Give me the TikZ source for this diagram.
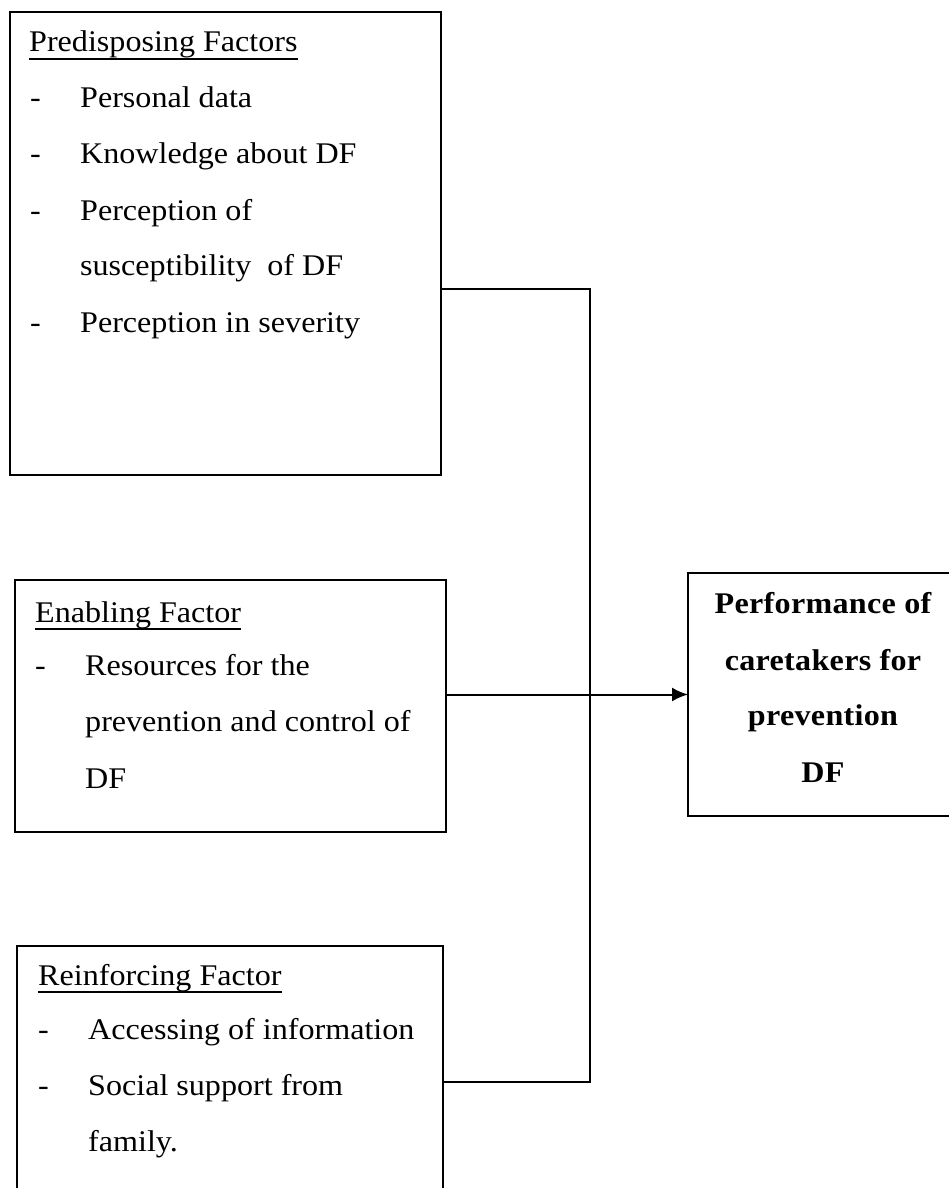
\documentclass[tikz,border=0pt]{standalone}
\usepackage{fontspec}
\setmainfont{Liberation Serif}[FakeStretch=1.07]
\usetikzlibrary{arrows.meta}
\begin{document}
\begin{tikzpicture}[x=1pt,y=-1pt,
  box/.style={draw, line width=2pt, rectangle, anchor=north west, inner sep=0pt, outer sep=0pt},
  txt/.style={anchor=base west, inner sep=0pt, font=\fontsize{30}{33}\selectfont},
  btxt/.style={anchor=base, inner sep=0pt, font=\fontsize{30}{33}\selectfont\bfseries\addfontfeature{LetterSpace=1}},
  conn/.style={line width=2pt},
  uline/.style={line width=1.2pt}]
\clip (0,0) rectangle (949,1188);
\fill[white] (0,0) rectangle (949,1188);

% boxes
\node[box, minimum width=431pt, minimum height=463pt] (b1) at (10,12) {};
\node[box, minimum width=431pt, minimum height=252pt] (b2) at (15,580) {};
\node[box, minimum width=280pt, minimum height=243pt] (b3) at (688,573) {};
\node[box, minimum width=426pt, minimum height=260pt] (b4) at (17,946) {};

% box 1 text
\node[txt] (h1) at (29,52) {Predisposing Factors};
\draw[uline] ([yshift=-7pt]h1.base west) -- ([yshift=-7pt]h1.base east);
\node[txt] (d11) at (30,108) {-};
\node[txt] (t11) at (80,108) {Personal data};
\node[txt] (d12) at (30,163) {-};
\node[txt] (t12) at (80,163) {Knowledge about DF};
\node[txt] (d13) at (30,220) {-};
\node[txt] (t13) at (80,220) {Perception of};
\node[txt] (t14) at (80,275) {susceptibility\ \ of DF};
\node[txt] (d15) at (30,332) {-};
\node[txt] (t15) at (80,332) {Perception in severity};

% box 2 text
\node[txt] (h2) at (35,622) {Enabling Factor};
\draw[uline] ([yshift=-7pt]h2.base west) -- ([yshift=-7pt]h2.base east);
\node[txt] (d21) at (35,675) {-};
\node[txt] (t21) at (85,675) {Resources for the};
\node[txt] (t22) at (85,731) {prevention and control of};
\node[txt] (t23) at (85,788) {DF};

% box 3 text
\node[btxt] (p1) at (823,613) {Performance of};
\node[btxt] (p2) at (823,670) {caretakers for};
\node[btxt] (p3) at (823,725) {prevention};
\node[btxt] (p4) at (823,782) {DF};

% box 4 text
\node[txt] (h4) at (38,985) {Reinforcing Factor};
\draw[uline] ([yshift=-7pt]h4.base west) -- ([yshift=-7pt]h4.base east);
\node[txt] (d41) at (38,1039) {-};
\node[txt] (t41) at (88,1039) {Accessing of information};
\node[txt] (d42) at (38,1095) {-};
\node[txt] (t42) at (88,1095) {Social support from};
\node[txt] (t43) at (88,1151) {family.};

% connectors
\coordinate (j1) at (590,289);
\coordinate (j4) at (590,1082);
\draw[conn] (b1.east |- j1) -- (j1) -- (j4) -- (b4.east |- j4);
\draw[conn, -{Latex[length=16pt,width=14pt]}] (b2.east |- b3.west) -- (b3.west);
\end{tikzpicture}
\end{document}
